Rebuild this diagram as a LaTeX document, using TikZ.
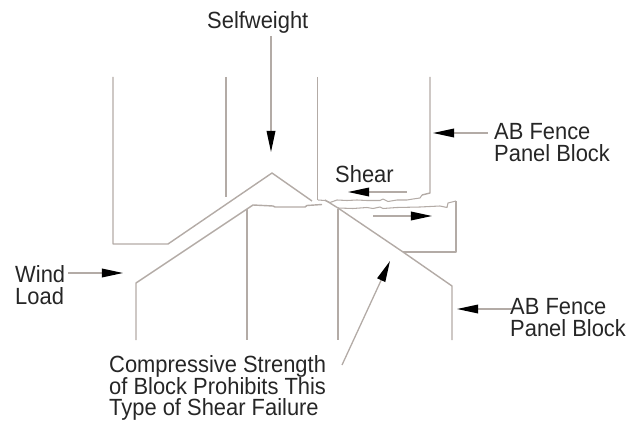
\documentclass[tikz,border=0pt]{standalone}
\usepackage{fontspec}
\setmainfont[FakeStretch=0.935]{Liberation Sans}
\usetikzlibrary{arrows.meta}
\definecolor{linegray}{HTML}{B3ABA6}
\definecolor{inkgray}{HTML}{262626}
\newcommand{\labelfont}{\fontsize{20}{18.6}\selectfont\lineskiplimit=-8pt\relax}
\tikzset{
  block/.style={draw=linegray,line width=1.2pt,line join=round},
  joint/.style={draw=linegray,line width=0.9pt,line join=round},
  loadarrow/.style={draw=linegray,line width=1.1pt,-{Triangle[length=18pt,width=7.4pt,color=black,fill=black]}},
  label/.style={align=left,anchor=north west,inner sep=0pt,text=inkgray,font=\labelfont}
}
\begin{document}
\begin{tikzpicture}[x=0.03cm,y=-0.03cm]
\useasboundingbox (0,0) rectangle (641,423);
% upper blocks
\draw[block] (113,77) -- (113,244) -- (168,244) -- (272,173) -- (312,201);
\draw[block] (226,77) -- (226,197);
\draw[block] (317.5,77) -- (317.5,200);
\draw[block] (430,77) -- (430,193) -- (422,195);
\draw[joint] (318,200) -- (325,200.5) -- (330,202.5) -- (337,200) -- (347,200.5) -- (357,200) -- (367,200.5) -- (380,200.5) -- (383,199) -- (388,201.5) -- (397,200) -- (407,200) -- (413,199) -- (420,198) -- (422,195);
% lower blocks
\draw[block] (136,340) -- (136,283) -- (253,205) -- (273,206) -- (275,207) -- (305,207) -- (307,205.5) -- (322,204.5);
\draw[block] (247,209) -- (247,340);
\draw[block] (338,209) -- (338,340);
\draw[block] (452,340) -- (452,286) -- (403,252);
\draw[block] (456,201) -- (456,252) -- (403,252);
\draw[block] (325,200) -- (338,208) -- (403,252);
\draw[joint] (338,208) -- (353,208.5) -- (367,207.5) -- (373,208.5) -- (380,207) -- (383,208.5) -- (397,207.5) -- (420,207) -- (440,206) -- (447,207.5) -- (448,203) -- (456,201);
% text
\node[label] (selfweight) at (207,11) {Selfweight};
\node[label] (shear) at (335,165) {Shear};
\node[label] (fencetop) at (494,123) {AB Fence\\Panel Block};
\node[label] (fencelow) at (510,298) {AB Fence\\Panel Block};
\node[label] (wind) at (15,265) {Wind\\Load};
\node[label] (strength) at (109,355) {Compressive Strength\\of Block Prohibits This\\Type of Shear Failure};
% load arrows
\coordinate (selfstart) at (271,36);
\coordinate (selftip) at (271,152);
\coordinate (fencetopstart) at (488,133);
\coordinate (fencetoptip) at (433,133);
\coordinate (shearstart) at (407,192);
\coordinate (sheartip) at (348,192);
\coordinate (slipstart) at (373,216);
\coordinate (sliptip) at (432,216);
\coordinate (fencelowstart) at (512,309);
\coordinate (fencelowtip) at (457,309);
\coordinate (windstart) at (68,273);
\coordinate (windtip) at (123,273);
\coordinate (strengthstart) at (342,365);
\coordinate (strengthtip) at (390,261);
\draw[loadarrow] (selfstart) -- (selftip);
\draw[loadarrow] (fencetopstart) -- (fencetoptip);
\draw[loadarrow] (shearstart) -- (sheartip);
\draw[loadarrow] (slipstart) -- (sliptip);
\draw[loadarrow] (fencelowstart) -- (fencelowtip);
\draw[loadarrow] (windstart) -- (windtip);
\draw[loadarrow] (strengthstart) -- (strengthtip);
\end{tikzpicture}
\end{document}
